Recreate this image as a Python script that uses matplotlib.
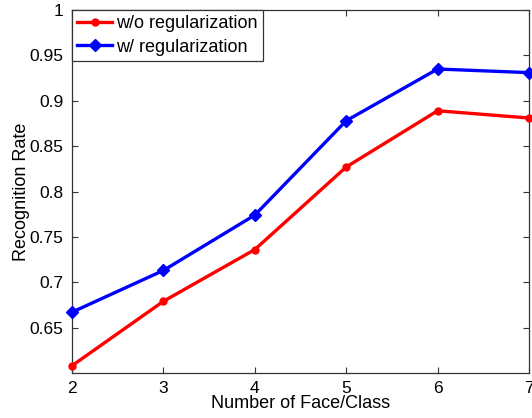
import matplotlib
matplotlib.use("Agg")
import matplotlib.pyplot as plt

plt.rcParams['font.family'] = ['Liberation Sans', 'DejaVu Sans']

faces = [2, 3, 4, 5, 6, 7]
wo_reg = [0.608, 0.679, 0.736, 0.827, 0.889, 0.881]
w_reg = [0.667, 0.713, 0.774, 0.878, 0.935, 0.931]
yticks = [0.65, 0.7, 0.75, 0.8, 0.85, 0.9, 0.95, 1]
ytick_labels = ['0.65', '0.7', '0.75', '0.8', '0.85', '0.9', '0.95', '1']

fig = plt.figure(figsize=(5.32, 4.18), dpi=100)
ax = fig.add_axes([0.1353, 0.1077, 0.8591, 0.8683])

ax.plot(faces, wo_reg, color='#ff0000', lw=2.4, marker='o', ms=5,
        label='w/o regularization', clip_on=False, zorder=3)
ax.plot(faces, w_reg, color='#0000ff', lw=2.4, marker='D', ms=6.5,
        label='w/ regularization', clip_on=False, zorder=3)

ax.set_xlim(2, 7)
ax.set_ylim(0.6, 1)
ax.set_xticks(faces)
ax.set_yticks(yticks)
ax.set_yticklabels(ytick_labels)
ax.tick_params(direction='in', top=True, right=True, labelsize=12.5,
               length=4, width=0.8, color='#333333', pad=6)
for s in ax.spines.values():
    s.set_color('#333333')
    s.set_linewidth(0.9)

ax.set_xlabel('Number of Face/Class', fontsize=13, labelpad=-1)
ax.set_ylabel('Recognition Rate', fontsize=13, labelpad=0)

leg = ax.legend(loc='upper left', fontsize=13, frameon=True, fancybox=False,
                borderaxespad=0, handlelength=1.9, handletextpad=0.25,
                borderpad=0.3, labelspacing=0.35, framealpha=1)
leg.get_frame().set_edgecolor('#333333')
leg.get_frame().set_linewidth(0.9)

fig.savefig('out.png', dpi=100)
